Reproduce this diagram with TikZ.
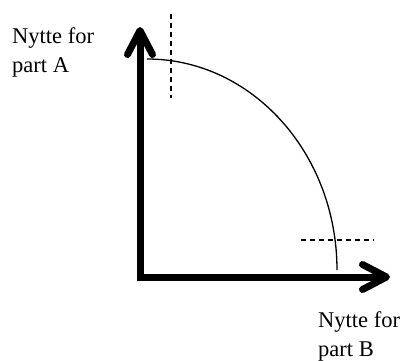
\documentclass[tikz,border=0pt]{standalone}
\usepackage{fontspec}
\setmainfont{Liberation Serif}
\usetikzlibrary{arrows.meta}

\begin{document}
\begin{tikzpicture}[
  x=1pt,y=-1pt,
  every node/.style={font=\fontsize{22.5}{29}\selectfont},
  axis/.style={line width=7pt,miter limit=10,
    {Straight Barb[length=24pt,width=25pt,round]}-{Straight Barb[length=24pt,width=25pt,round]}},
  curve/.style={line width=1.3pt},
  guide/.style={line width=1.3pt,dash pattern=on 5pt off 4pt},
  lbl/.style={align=left,inner sep=0pt,anchor=north west}
]
  \useasboundingbox (0,0) rectangle (404,360);

  % --- axes ---
  \coordinate (yTop) at (140,27);
  \coordinate (O) at (140,277);
  \coordinate (xEnd) at (390,277);
  \draw[axis] (yTop) -- (O) -- (xEnd);

  % --- curve ---
  \coordinate (cTop) at (147,59);
  \draw[curve] (cTop) arc[start angle=-90,end angle=0,x radius=190,y radius=211];

  % --- dashed guides ---
  \coordinate (vA) at (171,14);
  \coordinate (vB) at (171,98);
  \coordinate (hA) at (301,240);
  \coordinate (hB) at (374,240);
  \draw[guide] (vA) -- (vB);
  \draw[guide] (hA) -- (hB);

  % labels
  \node[lbl] (labA) at (12,27) {Nytte for\\part A};
  \node[lbl] (labB) at (318,311) {Nytte for\\part B};
\end{tikzpicture}
\end{document}
